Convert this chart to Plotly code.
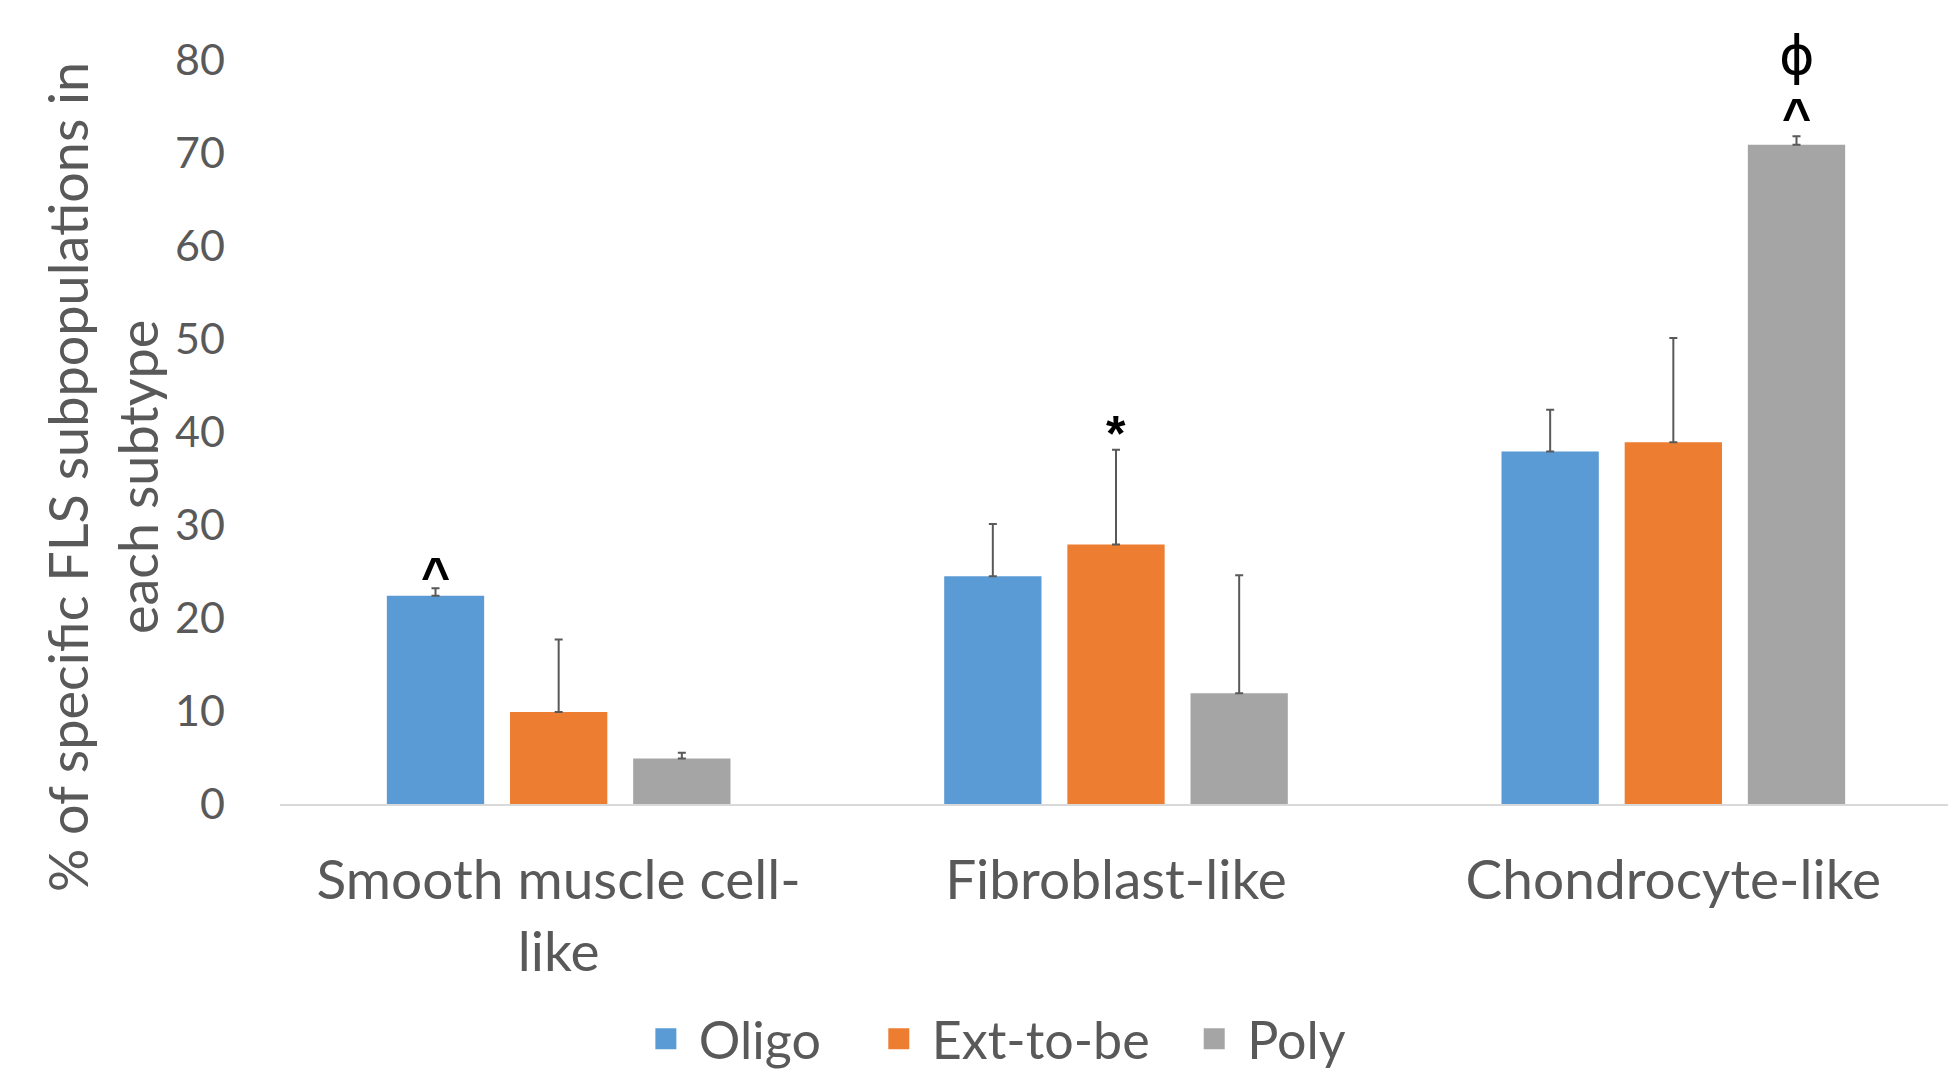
import plotly.graph_objects as go

categories = ["Smooth muscle cell-like", "Fibroblast-like", "Chondrocyte-like"]
tick_text = ["Smooth muscle cell-<br>like", "Fibroblast-like", "Chondrocyte-like"]
series_names = ["Oligo", "Ext-to-be", "Poly"]
oligo = [22.4, 24.5, 37.9]
ext_to_be = [9.9, 27.9, 38.9]
poly = [4.9, 11.9, 70.9]
oligo_err = [0.8, 5.6, 4.5]
ext_to_be_err = [7.8, 10.2, 11.2]
poly_err = [0.6, 12.7, 0.9]
y_ticks = [0, 10, 20, 30, 40, 50, 60, 70, 80]
# significance marks: (category index, series index, label, gap above error cap in data units)
sig_marks = [(0, 0, "^", 2.4), (1, 1, "*", 3.2), (2, 2, "^", 3.2), (2, 2, "ϕ", 7.4)]

colors = ["#5B9BD5", "#ED7D31", "#A5A5A5"]
values = [oligo, ext_to_be, poly]
errors = [oligo_err, ext_to_be_err, poly_err]
TXT = "#595959"
FONT = "Lato, 'Open Sans', sans-serif"
bargap = 0.337
bargroupgap = 0.21
pads = ["\u00a0\u00a0\u00a0", "\u00a0\u00a0", ""]

fig = go.Figure()
for name, vals, errs, col in zip(series_names, values, errors, colors):
    fig.add_trace(go.Bar(
        x=categories, y=vals, name=name, legendgroup=name, showlegend=False,
        marker=dict(color=col, line=dict(width=0)),
        error_y=dict(type="data", array=errs, arrayminus=[0] * len(errs),
                     symmetric=False, color="#595959", thickness=2, width=4),
    ))
# legend entries (square swatches, larger than the default bar swatch)
for name, col, pad in zip(series_names, colors, pads):
    fig.add_trace(go.Scatter(
        x=[None], y=[None], mode="markers", name=name + pad, legendgroup=name,
        marker=dict(symbol="square", size=16, color=col,
                    line=dict(color=col, width=5)),
        hoverinfo="skip",
    ))

glyph_style = {
    "^": dict(family="'Liberation Sans', Arial, sans-serif", size=50, weight="bold", shift=-10),
    "*": dict(family="'Liberation Sans', Arial, sans-serif", size=50, weight="bold", shift=-14),
    "ϕ": dict(family="'DejaVu Sans', sans-serif", size=54, weight="normal", shift=12),
}
slot = (1 - bargap) / len(series_names)
for ci, si, label, off in sig_marks:
    st = glyph_style[label]
    xpos = ci + (si - (len(series_names) - 1) / 2) * slot
    ypos = values[si][ci] + errors[si][ci] + off
    fig.add_annotation(x=xpos, y=ypos, xref="x", yref="y", text=label,
                       showarrow=False, yanchor="middle", xanchor="center",
                       yshift=st["shift"],
                       font=dict(family=st["family"], size=st["size"],
                                 weight=st["weight"], color="#000000"))

fig.add_annotation(
    text="% of specific FLS subpopulations in<br>each subtype",
    xref="paper", yref="paper", x=(94 - 272) / 1672, y=0.4395, textangle=-90,
    showarrow=False, xanchor="center", yanchor="middle",
    font=dict(family=FONT, size=54, color=TXT))

fig.update_layout(
    width=1956, height=1085,
    margin=dict(l=272, r=12, t=52, b=289, autoexpand=False),
    paper_bgcolor="white", plot_bgcolor="white",
    barmode="group", bargap=bargap, bargroupgap=bargroupgap,
    font=dict(family=FONT, color=TXT),
    showlegend=True,
    legend=dict(orientation="h", xref="container", yref="container",
                x=0.503, y=0.0498, xanchor="center", yanchor="middle",
                font=dict(family=FONT, size=52, color=TXT),
                itemwidth=56, traceorder="normal", itemsizing="trace"),
    xaxis=dict(tickmode="array", tickvals=categories, ticktext=tick_text,
               showline=True, linecolor="#D9D9D9", linewidth=2,
               showgrid=False, ticks="", ticklabelstandoff=27,
               automargin=False,
               tickfont=dict(family=FONT, size=55, color=TXT)),
    yaxis=dict(range=[0, 80], tickvals=y_ticks, showgrid=False,
               zeroline=False, showline=False, ticks="",
               ticklabelstandoff=54, automargin=False,
               tickfont=dict(family=FONT, size=43, color=TXT)),
)

fig.write_html("out.html")
